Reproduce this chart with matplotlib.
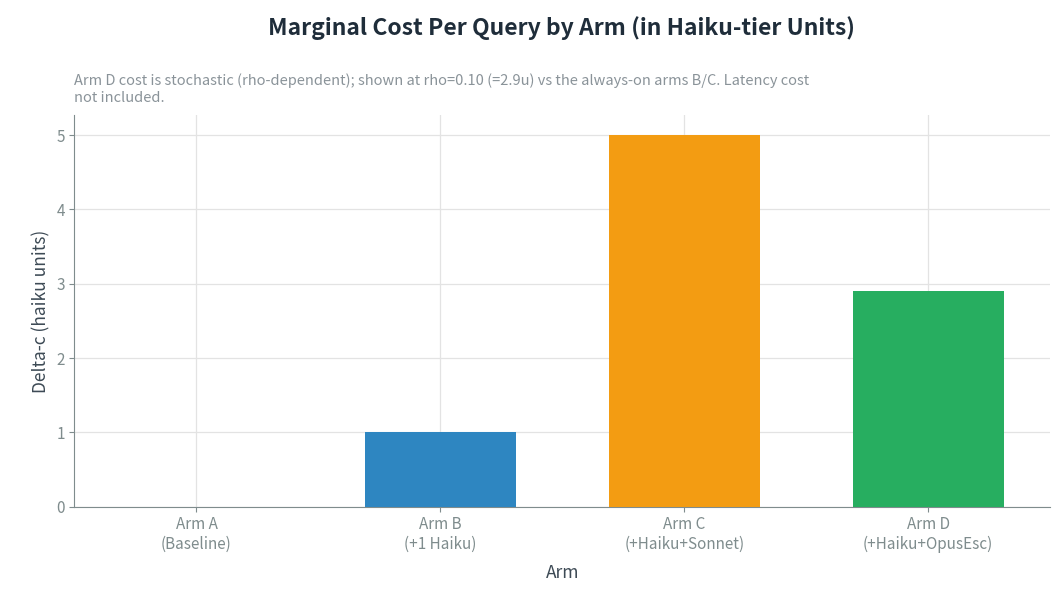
import matplotlib
matplotlib.use("Agg")
import matplotlib.pyplot as plt

plt.rcParams["font.family"] = ["Noto Sans CJK KR", "DejaVu Sans"]

arms = ["Arm A\n(Baseline)", "Arm B\n(+1 Haiku)", "Arm C\n(+Haiku+Sonnet)", "Arm D\n(+Haiku+OpusEsc)"]
delta_c = [0.0, 1.0, 5.0, 2.9]
colors = ["#95a5a6", "#2e86c1", "#f39c12", "#27ae60"]

fig = plt.figure(figsize=(10.64, 6.15), dpi=100)
ax = fig.add_axes([0.070, 0.176, 0.917, 0.637])

x = range(len(arms))
ax.bar(x, delta_c, width=0.62, color=colors, zorder=3)
ax.set_xlim(-0.5, 3.5)
ax.set_ylim(0, 5.27)
ax.set_xticks(list(x))
ax.set_xticklabels(arms, fontsize=11, color="#555f66")
ax.tick_params(axis="y", labelsize=11, labelcolor="#555f66")
ax.tick_params(colors="#7f8c8d")
ax.grid(True, color="#e3e3e3", linewidth=0.9, zorder=0)
for s in ["top", "right"]:
    ax.spines[s].set_visible(False)
for s in ["left", "bottom"]:
    ax.spines[s].set_color("#7f8c8d")
ax.set_xlabel("Arm", fontsize=12.5, color="#3d4a55", labelpad=8)
ax.set_ylabel("Delta-c (haiku units)", fontsize=12.5, color="#3d4a55")

fig.text(0.528, 0.955, "Marginal Cost Per Query by Arm (in Haiku-tier Units)",
         ha="center", va="center", fontsize=16.5, fontweight="bold", color="#1f2d3a")
fig.text(0.070, 0.855,
         "Arm D cost is stochastic (rho-dependent); shown at rho=0.10 (=2.9u) vs the always-on arms B/C. Latency cost\nnot included.",
         ha="left", va="center", fontsize=10.5, color="#8a9399", linespacing=1.3)

fig.savefig("out.png", dpi=100)
